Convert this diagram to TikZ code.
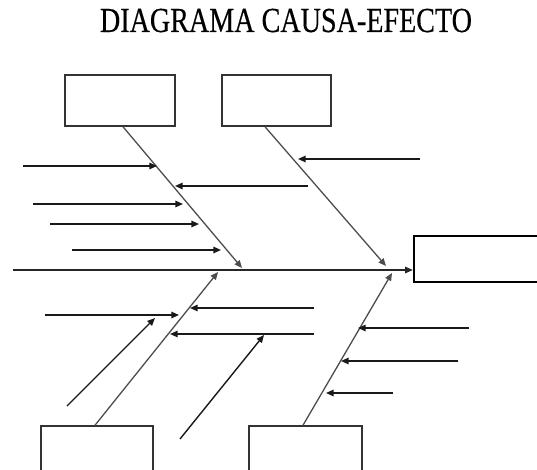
\documentclass[tikz,border=0pt]{standalone}
\usepackage{fontspec}
\setmainfont{Liberation Serif}
\newfontfamily\titlefont[FakeBold = 0.4]{Liberation Serif}
\usetikzlibrary{calc, arrows.meta}

\begin{document}
\begin{tikzpicture}[x = 0.3mm, y = -0.3mm,
		tip/.style = {-{Triangle[length = 6.5pt, width = 5.5pt]}},
		bone/.style = {tip, draw = black!70, line width = 1.1pt},
		rib/.style = {tip, draw = black!90, line width = 1.2pt},
		cause/.style = {draw = black!80, line width = 1.3pt, inner sep = 0pt, minimum height = 15.3mm}]
		\def\frame{(0,0) rectangle (537,470)};

		\useasboundingbox \frame;
		\clip \frame;

		\begin{scope}
			\node (title) [anchor = base] at (286,32) {\titlefont\fontsize{30}{30}\selectfont\scalebox{0.8}[1]{DIAGRAMA CAUSA-EFECTO}};
		\end{scope}

		\begin{scope}
			\node (boxA) [cause, minimum width = 33mm] at (120,100.5) {};
			\node (boxB) [cause, minimum width = 32.7mm] at (276.5,100.5) {};
			\node (boxC) [cause, minimum width = 33.6mm] at (97,451.5) {};
			\node (boxD) [cause, minimum width = 33.9mm] at (305.5,451.5) {};
			\node (effect) [draw, line width = 2pt, inner sep = 0pt, minimum width = 39.3mm, minimum height = 13.8mm] at (479.5,259) {};
		\end{scope}

		\begin{scope}
			\coordinate (tail) at (13,270);
			\coordinate (head) at (effect.west |- tail);
			\draw [bone, draw = black!85] (tail) -- (head);

			\coordinate (hA) at (242,268);
			\coordinate (hB) at (386,266);
			\coordinate (hC) at (218,272);
			\coordinate (hD) at (392,273);
			\draw [bone] ($(boxA.south)+(3,0)$) -- (hA);
			\draw [bone] ($(boxB.south)+(-11.5,0)$) -- (hB);
			\draw [bone] ($(boxC.north)+(-2,0)$) -- (hC);
			\draw [bone] ($(boxD.north)+(-2.5,0)$) -- (hD);
		\end{scope}

		\begin{scope}
			\foreach \a/\b [count = \i] in {
					{23,166}/{157,166}, {308,186}/{175,186}, {33,204}/{183,204},
					{50,224}/{199,224}, {72,250}/{221,250}, {420,159}/{298,159},
					{45,315}/{179,315}, {314,308}/{190,308}, {314,334}/{170,334},
					{67,406}/{155,318}, {180,439}/{264,335},
					{469,328}/{358,328}, {458,361}/{341,361}, {393,393}/{326,393}} {
				\coordinate (r\i) at (\a);
				\coordinate (s\i) at (\b);
				\draw [rib] (r\i) -- (s\i);
			}
		\end{scope}
	\end{tikzpicture}
\end{document}
